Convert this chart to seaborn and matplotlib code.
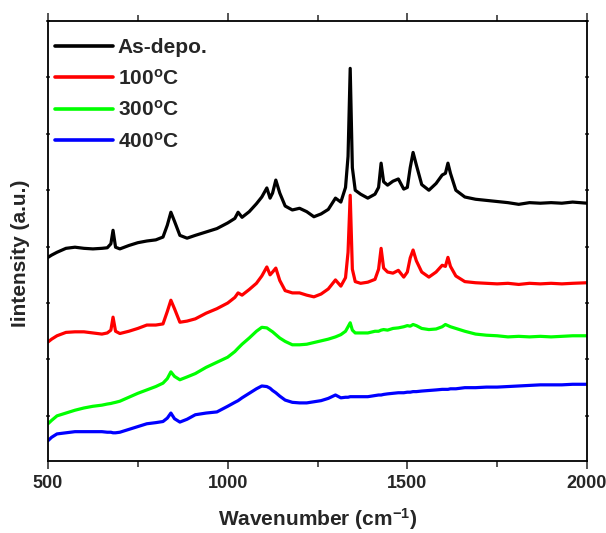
import matplotlib
matplotlib.use("Agg")
import matplotlib.pyplot as plt
from matplotlib.ticker import MultipleLocator
import seaborn as sns
import pandas as pd

# Raman spectra (intensity in arbitrary offset units)
wavenumber = [500, 510, 525, 550, 575, 600, 625, 650, 665, 675, 681, 688, 700, 725, 750,
              775, 800, 820, 832, 842, 852, 867, 887, 910, 940, 970, 1000, 1020, 1029, 1040,
              1060, 1080, 1095, 1109, 1118, 1125, 1134, 1145, 1160, 1180, 1200, 1220, 1240,
              1260, 1280, 1300, 1315, 1328, 1335, 1341, 1347, 1355, 1370, 1390, 1410, 1420,
              1427, 1434, 1445, 1460, 1475, 1490, 1500, 1508, 1516, 1525, 1540, 1560, 1580,
              1597, 1606, 1613, 1620, 1635, 1660, 1690, 1720, 1750, 1780, 1810, 1840, 1870,
              1900, 1930, 1960, 2000]

as_depo = [2.81, 2.85, 2.90, 2.97, 2.99, 2.97, 2.96, 2.97, 2.98, 3.05, 3.29, 2.99, 2.96, 3.02, 3.07,
           3.10, 3.12, 3.17, 3.38, 3.61, 3.45, 3.20, 3.15, 3.20, 3.26, 3.32, 3.42, 3.50, 3.61, 3.52,
           3.62, 3.76, 3.88, 4.04, 3.86, 3.95, 4.18, 3.95, 3.72, 3.65, 3.68, 3.62, 3.53,
           3.58, 3.66, 3.86, 3.79, 4.05, 4.60, 6.16, 4.40, 4.00, 3.93, 3.86, 3.93, 4.05,
           4.48, 4.15, 4.09, 4.16, 4.20, 4.02, 4.05, 4.40, 4.67, 4.45, 4.10, 4.00, 4.12,
           4.27, 4.30, 4.48, 4.30, 4.00, 3.88, 3.84, 3.82, 3.80, 3.78, 3.75, 3.78, 3.77,
           3.78, 3.77, 3.79, 3.77]

t100 = [1.31, 1.36, 1.42, 1.48, 1.49, 1.49, 1.47, 1.45, 1.47, 1.52, 1.75, 1.50, 1.46, 1.50, 1.55,
        1.61, 1.61, 1.63, 1.85, 2.05, 1.90, 1.66, 1.68, 1.72, 1.82, 1.90, 2.00, 2.10, 2.18, 2.14,
        2.24, 2.35, 2.48, 2.64, 2.50, 2.55, 2.62, 2.40, 2.22, 2.18, 2.18, 2.14, 2.11,
        2.16, 2.25, 2.41, 2.30, 2.45, 2.90, 3.91, 2.60, 2.38, 2.35, 2.37, 2.42, 2.60,
        2.97, 2.62, 2.55, 2.53, 2.58, 2.46, 2.55, 2.80, 2.94, 2.75, 2.55, 2.46, 2.55,
        2.67, 2.65, 2.81, 2.65, 2.48, 2.38, 2.36, 2.35, 2.34, 2.35, 2.33, 2.35, 2.34,
        2.35, 2.34, 2.35, 2.36]

t300 = [-0.14, -0.08, 0.00, 0.05, 0.10, 0.14, 0.17, 0.19, 0.21, 0.22, 0.23, 0.24, 0.26, 0.33, 0.40,
        0.46, 0.52, 0.58, 0.66, 0.78, 0.70, 0.64, 0.69, 0.75, 0.86, 0.95, 1.04, 1.14, 1.20, 1.27,
        1.38, 1.50, 1.57, 1.56, 1.52, 1.49, 1.44, 1.38, 1.32, 1.26, 1.26, 1.27, 1.30,
        1.33, 1.36, 1.40, 1.44, 1.50, 1.58, 1.65, 1.52, 1.47, 1.47, 1.47, 1.50, 1.50,
        1.52, 1.53, 1.52, 1.55, 1.56, 1.58, 1.60, 1.59, 1.62, 1.60, 1.55, 1.53, 1.54,
        1.58, 1.62, 1.60, 1.58, 1.55, 1.50, 1.45, 1.43, 1.42, 1.40, 1.41, 1.40, 1.41,
        1.40, 1.41, 1.42, 1.42]

t400 = [-0.44, -0.38, -0.32, -0.30, -0.28, -0.28, -0.28, -0.28, -0.29, -0.29, -0.30, -0.30, -0.29, -0.24, -0.19,
        -0.14, -0.12, -0.10, -0.04, 0.05, -0.05, -0.11, -0.06, 0.02, 0.05, 0.07, 0.17, 0.24, 0.27, 0.32,
        0.40, 0.48, 0.53, 0.52, 0.49, 0.45, 0.41, 0.35, 0.28, 0.24, 0.23, 0.23, 0.25,
        0.27, 0.31, 0.37, 0.32, 0.33, 0.33, 0.34, 0.34, 0.34, 0.34, 0.34, 0.36, 0.37,
        0.37, 0.38, 0.39, 0.40, 0.41, 0.41, 0.42, 0.42, 0.43, 0.43, 0.44, 0.45, 0.46,
        0.47, 0.47, 0.47, 0.48, 0.48, 0.50, 0.50, 0.51, 0.51, 0.52, 0.53, 0.54, 0.55,
        0.55, 0.55, 0.56, 0.56]

labels = ["As-depo.", "100$^{o}$C", "300$^{o}$C", "400$^{o}$C"]
colors = ["#000000", "#ff0000", "#00ff00", "#0000ff"]

sns.set_style("ticks")
plt.rcParams["font.family"] = ["Liberation Sans", "DejaVu Sans"]
plt.rcParams["font.weight"] = "bold"
plt.rcParams["mathtext.fontset"] = "custom"
plt.rcParams["mathtext.rm"] = "Liberation Sans:bold"
plt.rcParams["mathtext.it"] = "Liberation Sans:bold"
plt.rcParams["mathtext.bf"] = "Liberation Sans:bold"

frames = []
for lab, vals in zip(labels, [as_depo, t100, t300, t400]):
    frames.append(pd.DataFrame({"wn": wavenumber, "I": vals, "sample": lab}))
df = pd.concat(frames, ignore_index=True)

fig = plt.figure(figsize=(6.06, 5.33), dpi=100)
ax = fig.add_axes([48 / 606, 1 - 461 / 533, 539 / 606, 440 / 533])

sns.lineplot(data=df, x="wn", y="I", hue="sample", hue_order=labels,
             palette=dict(zip(labels, colors)), estimator=None, sort=False,
             linewidth=2.3, ax=ax)

ax.set_xlim(500, 2000)
ax.set_ylim(-0.8, 7.0)
ax.xaxis.set_major_locator(MultipleLocator(500))
ax.xaxis.set_minor_locator(MultipleLocator(250))
ax.yaxis.set_major_locator(MultipleLocator(1))
ax.set_yticklabels([])

ax.tick_params(axis="x", which="major", direction="out", length=6, width=1.1,
               top=True, labelsize=13, pad=4)
ax.tick_params(axis="x", which="minor", direction="out", length=4.5, width=1.1, top=True)
ax.tick_params(axis="y", which="major", direction="inout", length=3, width=1.1,
               right=True, left=True)
for s in ax.spines.values():
    s.set_linewidth(1.3)
    s.set_color("black")
for t in ax.get_xticklabels():
    t.set_fontweight("bold")

ax.set_xlabel("Wavenumber (cm$^{-1}$)", fontsize=15, fontweight="bold", labelpad=10)
ax.set_ylabel("Iintensity (a.u.)", fontsize=15, fontweight="bold")
ax.yaxis.set_label_coords(-0.033, 0.473)

leg = ax.legend(loc="upper left", bbox_to_anchor=(7 / 539, 1 - 17 / 440), frameon=False,
                handlelength=2.8, handletextpad=0.22, labelspacing=0.55,
                borderaxespad=0, borderpad=0, prop={"weight": "bold", "size": 15})
for h in leg.get_lines():
    h.set_linewidth(2.6)

fig.savefig("out.png", dpi=100)
